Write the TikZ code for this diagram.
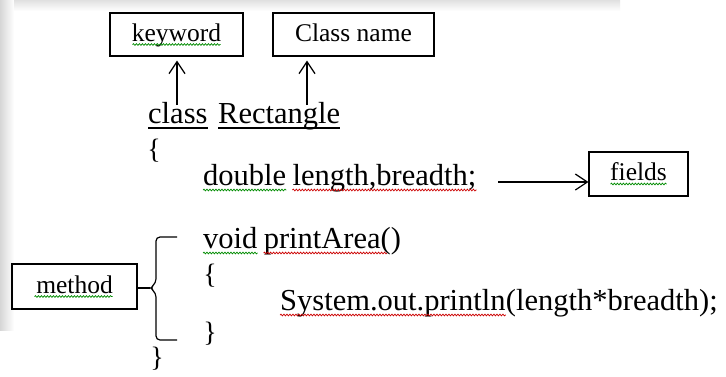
\documentclass[tikz,border=0pt]{standalone}
\usepackage{fontspec}
\setmainfont{Liberation Serif}
\usetikzlibrary{arrows.meta,decorations.pathmorphing,calc}
\begin{document}
\begin{tikzpicture}[x=1pt,y=-1pt,
  code/.style={inner sep=0pt, anchor=base west, font=\fontsize{30.5}{36}\selectfont},
  brc/.style={inner sep=0pt, font=\fontsize{28}{32}\selectfont},
  labelbox/.style={draw, line width=1.2pt, inner sep=0pt,
    font=\fontsize{25.5}{30}\selectfont, text height=18pt, text depth=5pt},
  arr/.style={line width=1.2pt, -{Straight Barb[length=12pt,width=16pt,line width=1.2pt]}},
  uline/.style={line width=1.1pt},
  squig/.style={decorate, decoration={snake, segment length=3pt, amplitude=0.9pt}, line width=0.7pt},
  spg/.style={squig, draw=green!55!black},
  spr/.style={squig, draw=red!80!black},
]
% page and faint grey edge bands
\useasboundingbox (0,0) rectangle (726,376);
\fill[white] (0,0) rectangle (726,376);
\shade[left color=black!16, right color=white] (0,0) rectangle (14,330);
\shade[top color=black!12, bottom color=white] (14,0) rectangle (620,11);

% labels
\node[labelbox, minimum width=133pt, minimum height=43pt] (kwbox) at (176.5,34.5) {keyword};
\node[labelbox, minimum width=161pt, minimum height=43pt] (cnbox) at (353.5,34.5) {Class name};
\node[labelbox, minimum width=99pt, minimum height=44pt] (fbox) at (638.5,174) {fields};
\node[labelbox, minimum width=125pt, minimum height=45pt] (mbox) at (74.5,286.5) {method};

% source code
\node[code] (cls) at (148,123) {class};
\node[code] (rect) at (218,123) {Rectangle};
\node[brc] (ob1) at (154,151) {\{};
\node[code] (dbl) at (203,185) {double};
\node[code] (lb) at ($(dbl.base east)+(6,0)$) {length,breadth;};
\node[code] (void) at (203,248) {void};
\node[code] (pa) at ($(void.base east)+(6,0)$) {printArea()};
\node[brc] (ob2) at (210,276) {\{};
\node[code] (sys) at (280,310) {System.out.println};
\node[code] (args) at (sys.base east) {(length*breadth);};
\node[brc] (cb2) at (210,334) {\}};
\node[brc] (cb1) at (157,359) {\}};

% underlined declaration
\draw[uline] ($(cls.base west)+(0,5)$) -- ($(cls.base east)+(0,5)$);
\draw[uline] ($(rect.base west)+(0,5)$) -- ($(rect.base east)+(0,5)$);

% spell-check marks
\draw[spg] ($(kwbox.center)+(-44,10)$) -- ($(kwbox.center)+(44,10)$);
\draw[spg] ($(fbox.center)+(-28,10)$) -- ($(fbox.center)+(28,10)$);
\draw[spg] ($(mbox.center)+(-40,10)$) -- ($(mbox.center)+(38,10)$);
\draw[spg] ($(dbl.base west)+(0,5)$) -- ($(dbl.base east)+(0,5)$);
\draw[spr] ($(lb.base west)+(0,5)$) -- ($(lb.base east)+(0,5)$);
\draw[spg] ($(void.base west)+(0,5)$) -- ($(void.base east)+(0,5)$);
\draw[spr] ($(pa.base west)+(0,5)$) -- ($(pa.base east)+(-14,5)$);
\draw[spr] ($(sys.base west)+(0,5)$) -- ($(sys.base east)+(0,5)$);

% arrows to the labels
\coordinate (t1) at (177,105);
\coordinate (t2) at (307,105);
\coordinate (t3) at (498,182);
\draw[arr, shorten >=4pt] (t1) -- (t1 |- kwbox.south);
\draw[arr, shorten >=4pt] (t2) -- (t2 |- cnbox.south);
\draw[arr] (t3) -- (t3 -| fbox.west);

% bracket grouping the method
\coordinate (tip) at (150,288);
\draw[line width=1.2pt] (mbox.east |- tip) -- (tip);
\draw[line width=1.2pt, rounded corners=4pt]
  (177,237) -- (156,237) -- (156,283) -- (tip) -- (156,293) -- (156,340) -- (177,340);
\end{tikzpicture}
\end{document}
